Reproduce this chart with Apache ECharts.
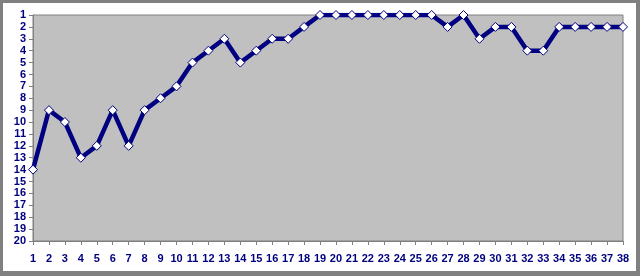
<!DOCTYPE html>
<html>
<head>
<meta charset="utf-8">
<script src="https://cdn.jsdelivr.net/npm/echarts@6/dist/echarts.min.js"></script>
<style>
html,body{margin:0;padding:0;background:#fff;}
#frame{position:absolute;left:0;top:0;width:640px;height:276px;background:#808080;}
#inner{position:absolute;left:3px;top:3px;width:633px;height:268px;background:#fff;}
#chart{position:absolute;left:0;top:0;width:640px;height:276px;}
</style>
</head>
<body>
<div id="frame"><div id="inner"></div></div>
<div id="chart"></div>
<script>
var categories = ['1','2','3','4','5','6','7','8','9','10','11','12','13','14','15','16','17','18','19','20','21','22','23','24','25','26','27','28','29','30','31','32','33','34','35','36','37','38'];
var ranks = [14,9,10,13,12,9,12,9,8,7,5,4,3,5,4,3,3,2,1,1,1,1,1,1,1,1,2,1,3,2,2,4,4,2,2,2,2,2];
var yMin = 1, yMax = 20, yStep = 1;

var chart = echarts.init(document.getElementById('chart'), null, {renderer:'canvas'});
var labelStyle = {color:'#000080', fontFamily:'Arial, "Liberation Sans", sans-serif', fontSize:11, fontWeight:'bold'};
chart.setOption({
  animation:false,
  backgroundColor:'transparent',
  grid:{left:33, right:17, top:15, bottom:35, show:true, backgroundColor:'#C0C0C0', borderColor:'#808080', borderWidth:1},
  xAxis:{
    type:'category', data:categories, boundaryGap:false,
    axisLine:{show:true, lineStyle:{color:'#808080', width:1}},
    axisTick:{show:true, alignWithLabel:true, length:4, lineStyle:{color:'#808080'}},
    axisLabel:Object.assign({interval:0, margin:12}, labelStyle),
    splitLine:{show:false}
  },
  yAxis:{
    type:'value', inverse:true, min:yMin, max:yMax, interval:yStep,
    axisLine:{show:true, lineStyle:{color:'#808080', width:1}},
    axisTick:{show:true, length:4, lineStyle:{color:'#808080'}},
    axisLabel:Object.assign({margin:7}, labelStyle),
    splitLine:{show:false}
  },
  series:[{
    type:'line', data:ranks,
    lineStyle:{color:'#000080', width:4.5},
    symbol:'diamond', symbolSize:9,
    itemStyle:{color:'#ffffff', borderColor:'#000080', borderWidth:1},
    z:3
  }]
});
</script>
</body>
</html>
